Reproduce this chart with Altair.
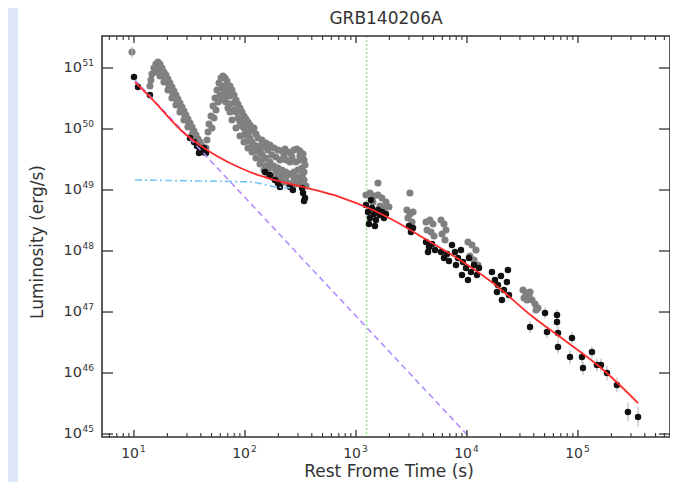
import altair as alt
import pandas as pd

# ---------------- data (log10 of time [s] and luminosity [erg/s]) -------------
gray_logt = [0.982, 1.144, 1.153, 1.162, 1.180, 1.198, 1.216, 1.234, 1.252, 1.270, 1.288, 1.306, 1.324, 1.342,
             1.360, 1.378, 1.396, 1.414, 1.432, 1.450, 1.468, 1.486, 1.505, 1.523, 1.541, 1.559, 1.577, 1.595, 1.613,
             1.207, 1.243, 1.279, 1.315, 1.351, 1.387, 1.423, 1.459, 1.495, 1.532, 1.568,
             1.198, 1.234, 1.270, 1.306, 1.342, 1.378, 1.414, 1.450, 1.486, 1.523, 1.559, 1.595, 1.631,
             1.649, 1.658, 1.667, 1.676, 1.694, 1.712, 1.730, 1.748, 1.766, 1.784, 1.802, 1.820, 1.838,
             1.703, 1.721, 1.739, 1.757, 1.775, 1.793, 1.811, 1.829, 1.847, 1.865, 1.883, 1.901, 1.919, 1.937,
             1.955, 1.973, 1.991, 2.009, 2.027, 2.045,
             1.793, 1.829, 1.865, 1.901, 1.937, 1.973, 2.009, 2.045, 2.081,
             1.883, 1.919, 1.955, 1.991, 2.027, 2.063, 2.099, 2.135, 2.171, 2.207, 2.243,
             2.063, 2.081, 2.099, 2.117, 2.153, 2.189, 2.225, 2.261, 2.297, 2.333, 2.360, 2.387, 2.414, 2.441,
             2.468, 2.495, 2.523,
             2.117, 2.153, 2.189, 2.225, 2.261, 2.297, 2.333, 2.369, 2.405, 2.441, 2.477, 2.514, 2.541,
             2.279, 2.315, 2.351, 2.387, 2.423, 2.459, 2.495, 2.532, 2.550,
             2.315, 2.405, 2.495, 2.369, 2.459, 2.532,
             2.171, 2.243, 1.991, 2.027, 1.955, 1.919, 2.063, 2.099, 2.135, 2.207, 2.279, 2.351, 2.477,
             2.135, 2.207, 2.279, 2.351, 2.423, 2.495, 2.532, 2.153, 2.225, 2.297, 2.369, 2.441, 2.514, 2.189, 2.333,
             1.937, 1.973, 2.009, 2.045, 1.991, 2.027, 2.063, 2.099,
             1.829, 1.865, 1.901, 1.811, 1.847, 1.865,
             3.198, 3.090, 3.126, 3.162, 3.198, 3.234, 3.270, 3.297, 3.153, 3.216, 3.252,
             3.486, 3.459, 3.486, 3.514, 3.468, 3.505,
             3.631, 3.667, 3.694, 3.640, 3.676, 3.703,
             3.766, 3.793, 3.811, 3.775, 3.802,
             4.009, 4.045, 4.081, 4.027, 4.063, 4.099,
             4.505, 4.532, 4.559, 4.586, 4.613, 4.640, 4.541, 4.568, 4.622, 4.514]
gray_logL = [51.262, 50.705, 50.803, 50.902, 51.000, 51.066, 51.098, 51.066, 51.000, 50.934, 50.885, 50.820, 50.754, 50.689,
             50.623, 50.557, 50.492, 50.426, 50.361, 50.295, 50.230, 50.164, 50.098, 50.033, 49.967, 49.902, 49.836, 49.787, 49.721,
             50.967, 50.902, 50.803, 50.705, 50.574, 50.475, 50.344, 50.213, 50.082, 49.951, 49.820,
             50.934, 50.869, 50.770, 50.639, 50.508, 50.393, 50.279, 50.148, 50.033, 49.902, 49.787, 49.689, 49.623,
             49.689, 49.820, 49.951, 50.082, 50.213, 50.377, 50.508, 50.639, 50.754, 50.836, 50.869, 50.836, 50.787,
             50.016, 50.180, 50.311, 50.443, 50.557, 50.672, 50.705, 50.639, 50.672, 50.705, 50.639, 50.557, 50.475, 50.410,
             50.344, 50.279, 50.213, 50.164, 50.115, 50.066,
             50.475, 50.443, 50.410, 50.311, 50.180, 50.049, 49.951, 49.852, 49.738,
             50.148, 50.016, 49.885, 49.787, 49.689, 49.623, 49.525, 49.426, 49.328, 49.262, 49.213,
             49.984, 50.016, 49.918, 49.852, 49.820, 49.770, 49.738, 49.689, 49.656, 49.639, 49.672, 49.623, 49.607, 49.656,
             49.672, 49.639, 49.590,
             49.656, 49.590, 49.525, 49.459, 49.393, 49.361, 49.328, 49.295, 49.262, 49.295, 49.328, 49.361, 49.410,
             49.197, 49.164, 49.131, 49.115, 49.098, 49.098, 49.115, 49.164, 49.066,
             49.492, 49.459, 49.492, 49.492, 49.459, 49.295,
             49.705, 49.574, 50.016, 49.902, 50.115, 50.279, 49.787, 49.721, 49.623, 49.410, 49.311, 49.246, 49.213,
             49.721, 49.656, 49.541, 49.557, 49.541, 49.557, 49.492, 49.492, 49.361, 49.262, 49.213, 49.197, 49.230, 49.393, 49.246,
             50.295, 50.164, 50.066, 49.967, 49.902, 49.803, 49.705, 49.639,
             50.541, 50.541, 50.426, 50.574, 50.344, 50.279,
             49.115, 48.918, 48.951, 48.902, 48.918, 48.869, 48.803, 48.721, 48.803, 48.738, 48.705,
             48.951, 48.672, 48.607, 48.639, 48.541, 48.475,
             48.475, 48.508, 48.443, 48.344, 48.311, 48.246,
             48.508, 48.443, 48.344, 48.279, 48.180,
             48.148, 48.098, 48.016, 47.918, 47.852, 47.770,
             47.361, 47.311, 47.262, 47.197, 47.131, 47.066, 47.197, 47.328, 47.033, 47.230]

black_logt = [1.000, 1.036, 1.144, 1.505, 1.541, 1.568, 1.595, 1.622, 1.649, 1.586, 1.631,
              2.180, 2.225, 2.270, 2.297, 2.315, 2.405, 2.432, 2.514, 2.523, 2.541, 2.532,
              3.090, 3.108, 3.126, 3.144, 3.162, 3.180, 3.198, 3.216, 3.234, 3.252, 3.270, 3.117, 3.171, 3.135,
              3.477, 3.495, 3.514,
              3.631, 3.658, 3.685, 3.712, 3.649,
              3.766, 3.793, 3.820, 3.838,
              3.865, 3.892, 3.919, 3.946, 3.964, 3.991, 4.018, 4.036, 4.063, 4.090, 4.108, 3.955, 4.009, 3.901,
              4.225, 4.252, 4.279, 4.306, 4.333, 4.360, 4.378, 4.270, 4.315, 4.369]
black_logL = [50.852, 50.689, 50.557, 49.852, 49.787, 49.721, 49.656, 49.623, 49.607, 49.607, 49.689,
              49.295, 49.246, 49.164, 49.115, 49.049, 49.049, 49.000, 49.033, 48.951, 48.869, 48.820,
              48.754, 48.639, 48.541, 48.705, 48.607, 48.508, 48.672, 48.590, 48.639, 48.541, 48.607, 48.443, 48.410, 48.836,
              48.410, 48.311, 48.377,
              48.148, 48.066, 48.115, 48.016, 47.984,
              47.984, 47.885, 47.951, 47.836,
              48.098, 47.984, 47.885, 48.016, 47.820, 47.721, 47.885, 47.656, 47.770, 47.607, 47.721, 47.607, 47.525, 47.770,
              47.656, 47.525, 47.443, 47.590, 47.361, 47.492, 47.279, 47.328, 47.197, 47.689]

late_logt = [4.568, 4.703, 4.721, 4.811, 4.811, 4.820, 4.820, 4.946, 4.928, 5.036, 5.045, 5.126, 5.171, 5.207,
             5.261, 5.351, 5.450, 5.541]
late_logL = [46.754, 46.984, 46.672, 46.951, 46.836, 46.656, 46.426, 46.574, 46.262, 46.262, 46.082, 46.344, 46.131,
             46.131, 46.000, 45.803, 45.361, 45.279]
late_err = [0.10, 0.09, 0.10, 0.09, 0.09, 0.10, 0.11, 0.10, 0.11, 0.10, 0.11, 0.10, 0.11, 0.11, 0.12, 0.12, 0.15, 0.16]

first_logt = [0.982]                  # early grey point with its error bar
first_logL = [51.262]
first_err = [0.09]

fit_logt = [1.009, 1.171, 1.441, 1.658, 1.892, 2.045, 2.252, 2.559, 2.856, 3.153, 3.333, 3.640, 3.937, 4.234,
            4.595, 4.901, 5.198, 5.541]
fit_logL = [50.770, 50.475, 49.951, 49.656, 49.418, 49.295, 49.170, 49.033, 48.885, 48.672, 48.508, 48.180, 47.852,
            47.475, 46.918, 46.508, 46.098, 45.508]

steep_logt = [1.009, 4.05]            # dashed power-law component
steep_logL = [50.803, 44.894]
plateau_logt = [1.009, 1.595, 2.045, 2.288, 2.405]   # dash-dot plateau component
plateau_logL = [49.164, 49.148, 49.131, 49.049, 49.033]
break_logt = 3.095                    # dotted vertical line

x_major = [1e1, 1e2, 1e3, 1e4, 1e5]
x_major_exp = ["1", "2", "3", "4", "5"]
x_minor = [6, 7, 8, 9, 20, 30, 40, 50, 60, 70, 80, 90, 200, 300, 400, 500, 600, 700, 800, 900,
           2000, 3000, 4000, 5000, 6000, 7000, 8000, 9000, 2e4, 3e4, 4e4, 5e4, 6e4, 7e4, 8e4, 9e4,
           2e5, 3e5, 4e5, 5e5, 6e5]
y_major = [1e45, 1e46, 1e47, 1e48, 1e49, 1e50, 1e51]
y_major_exp = ["45", "46", "47", "48", "49", "50", "51"]

title_text = "GRB140206A"
x_title = "Rest Frome Time (s)"
y_title = "Luminosity (erg/s)"

# ---------------- layout ----------------
W, H = 568, 401
FONT = "DejaVu Sans"
TXT = "#333333"
xs = alt.Scale(type="log", domain=[10 ** 0.712, 10 ** 5.829], nice=False)
ys = alt.Scale(type="log", domain=[10 ** 44.951, 10 ** 51.525], nice=False)

assert len(gray_logt) == len(gray_logL) and len(black_logt) == len(black_logL)


def pts(lt, lL, le=None):
    d = {"t": [10 ** v for v in lt], "L": [10 ** v for v in lL]}
    if le is not None:
        d["lo"] = [10 ** (v - e) for v, e in zip(lL, le)]
        d["hi"] = [10 ** (v + e) for v, e in zip(lL, le)]
    return pd.DataFrame(d)


gray = pts(gray_logt, gray_logL)
black = pts(black_logt, black_logL)
late = pts(late_logt, late_logL, late_err)
first = pts(first_logt, first_logL, first_err)
fit = pts(fit_logt, fit_logL)
steep = pts(steep_logt, steep_logL)
plateau = pts(plateau_logt, plateau_logL)
brk = pd.DataFrame({"t": [10 ** break_logt]})
xmaj = pd.DataFrame({"v": x_major, "e": x_major_exp})
xmin = pd.DataFrame({"v": x_minor})
ymaj = pd.DataFrame({"v": y_major, "e": y_major_exp})
one = pd.DataFrame({"a": [0]})


def X(f="t"):
    return alt.X(f"{f}:Q", scale=xs, axis=None)


def Y(f="L"):
    return alt.Y(f"{f}:Q", scale=ys, axis=None)


bg = alt.Chart(one).mark_rect(color="white").encode(
    x=alt.value(-84), x2=alt.value(W), y=alt.value(-28), y2=alt.value(H + 45))

green = alt.Chart(brk).mark_rule(color="#9be89b", strokeWidth=1.6, strokeDash=[2, 2]).encode(
    x=X(), y=alt.value(0), y2=alt.value(H))

err_late = alt.Chart(late).mark_rule(color="#b0b0b0", strokeWidth=1).encode(x=X(), y=Y("lo"), y2=alt.Y2("hi:Q"))
err_first = alt.Chart(first).mark_rule(color="#b0b0b0", strokeWidth=1).encode(x=X(), y=Y("lo"), y2=alt.Y2("hi:Q"))

gpts = alt.Chart(gray).mark_circle(color="#808080", opacity=1, size=50).encode(x=X(), y=Y())
bpts = alt.Chart(black).mark_circle(color="#111111", opacity=1, size=42).encode(x=X(), y=Y())
lpts = alt.Chart(late).mark_circle(color="#111111", opacity=1, size=42).encode(x=X(), y=Y())

steep_l = alt.Chart(steep).mark_line(color="#b58cff", strokeWidth=1.6, strokeDash=[6, 4], clip=True).encode(
    x=X(), y=Y())
plat_l = alt.Chart(plateau).mark_line(color="#76c5f5", strokeWidth=1.6, strokeDash=[7, 3, 2, 3],
                                      interpolate="monotone").encode(x=X(), y=Y())
fit_l = alt.Chart(fit).mark_line(color="#ff2a2a", strokeWidth=1.8, interpolate="monotone").encode(
    x=X(), y=Y())

TK = "#333333"
xt_b = alt.Chart(xmaj).mark_rule(color=TK, strokeWidth=1.3).encode(x=X("v"), y=alt.value(H), y2=alt.value(H - 7))
xt_t = alt.Chart(xmaj).mark_rule(color=TK, strokeWidth=1.3).encode(x=X("v"), y=alt.value(0), y2=alt.value(7))
xm_b = alt.Chart(xmin).mark_rule(color=TK, strokeWidth=1.1).encode(x=X("v"), y=alt.value(H), y2=alt.value(H - 4))
xm_t = alt.Chart(xmin).mark_rule(color=TK, strokeWidth=1.1).encode(x=X("v"), y=alt.value(0), y2=alt.value(4))
yt_l = alt.Chart(ymaj).mark_rule(color=TK, strokeWidth=1.3).encode(y=Y("v"), x=alt.value(0), x2=alt.value(11))
yt_r = alt.Chart(ymaj).mark_rule(color=TK, strokeWidth=1.3).encode(y=Y("v"), x=alt.value(W), x2=alt.value(W - 11))

frame = alt.Chart(one).mark_rect(filled=False, stroke="#333333", strokeWidth=1.6).encode(
    x=alt.value(0), x2=alt.value(W), y=alt.value(0), y2=alt.value(H))

xl_base = alt.Chart(xmaj).mark_text(text="10", font=FONT, fontSize=14, color=TXT, align="right",
                                    baseline="middle", dx=5).encode(x=X("v"), y=alt.value(H + 17))
xl_exp = alt.Chart(xmaj).mark_text(font=FONT, fontSize=9, color=TXT, align="left",
                                   baseline="middle", dx=6, dy=-5).encode(x=X("v"), y=alt.value(H + 17), text="e:N")
yl_base = alt.Chart(ymaj).mark_text(text="10", font=FONT, fontSize=14.5, color=TXT, align="right",
                                    baseline="middle").encode(y=Y("v"), x=alt.value(-20))
yl_exp = alt.Chart(ymaj).mark_text(font=FONT, fontSize=9, color=TXT, align="left",
                                   baseline="middle", dy=-5).encode(y=Y("v"), x=alt.value(-19.5), text="e:N")

t_main = alt.Chart(one).mark_text(text=title_text, font=FONT, fontSize=17, color=TXT, align="center",
                                  baseline="middle").encode(x=alt.value(W / 2), y=alt.value(-17))
t_x = alt.Chart(one).mark_text(text=x_title, font=FONT, fontSize=17, color=TXT, align="center",
                               baseline="middle").encode(x=alt.value(W / 2 + 3), y=alt.value(H + 35))
t_y = alt.Chart(one).mark_text(text=y_title, font=FONT, fontSize=17, color=TXT, align="center",
                               baseline="middle", angle=270).encode(x=alt.value(-64), y=alt.value(206))

chart = alt.layer(
    bg, green, gpts, err_first, err_late, bpts, lpts, steep_l, plat_l, fit_l,
    xt_b, xt_t, xm_b, xm_t, yt_l, yt_r, frame,
    xl_base, xl_exp, yl_base, yl_exp, t_main, t_x, t_y,
).properties(
    width=W, height=H,
    autosize=alt.AutoSizeParams(type="none"),
    padding={"left": 94, "top": 28, "right": 0, "bottom": 45},
    background="#dfe8f8",
).configure_view(strokeWidth=0)

chart.save("out.html", embed_options={"renderer": "svg", "actions": False})
